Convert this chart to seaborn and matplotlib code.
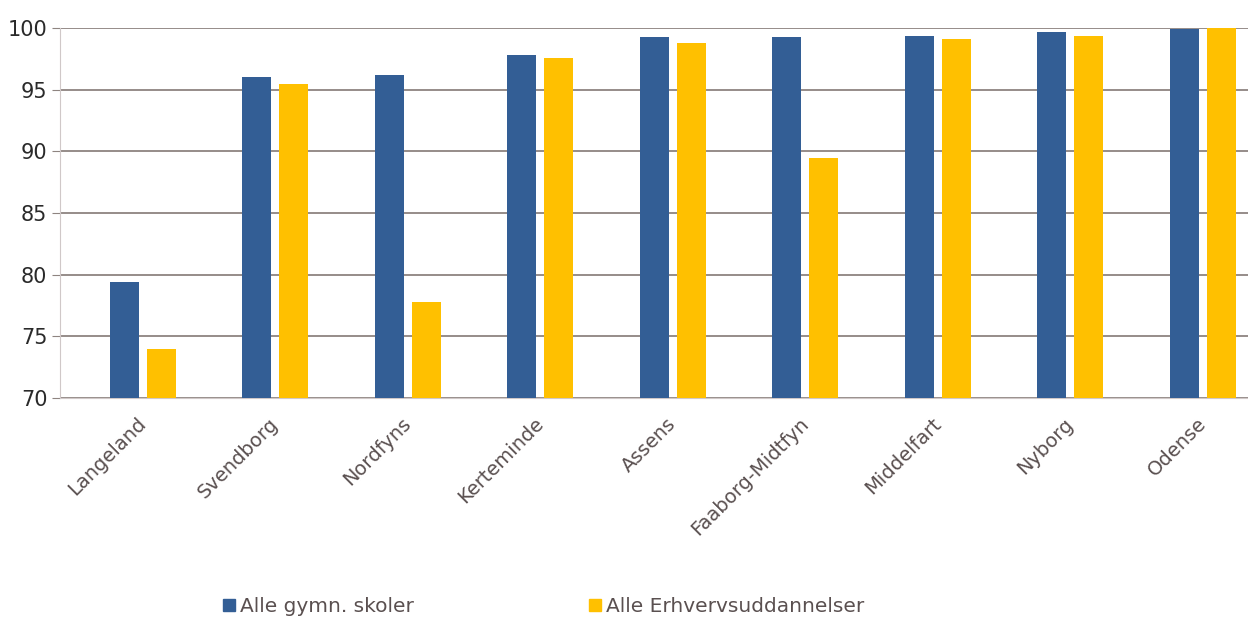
import numpy as np
import pandas as pd
import matplotlib
matplotlib.use('Agg')
import matplotlib.pyplot as plt
from matplotlib.lines import Line2D
import seaborn as sns

###############################################################################

kommuner = ['Langeland', 'Svendborg', 'Nordfyns', 'Kerteminde', 'Assens',
            'Faaborg-Midtfyn', 'Middelfart', 'Nyborg', 'Odense']

gymn = [79.4, 96.0, 96.2, 97.8, 99.3, 99.3, 99.4, 99.7, 99.9]
erhverv = [74.0, 95.5, 77.8, 97.6, 98.8, 89.45, 99.1, 99.4, 100.0]

serie_navne = ['Alle gymn. skoler', 'Alle Erhvervsuddannelser']
farver = ['#335E95', '#FFC000']

###############################################################################

if __name__ == "__main__":

    df = pd.DataFrame({
        'kommune': kommuner * 2,
        'serie': [serie_navne[0]] * len(kommuner) + [serie_navne[1]] * len(kommuner),
        'pct': gymn + erhverv,
    })

    sns.set_style('white')
    plt.rcParams['font.family'] = ['DejaVu Sans']

    fig = plt.figure(figsize=(12.48, 6.25), dpi=100)
    ax = fig.add_axes([0.048, 0.363, 0.952, 0.592])

    sns.barplot(data=df, x='kommune', y='pct', hue='serie',
                palette=farver, width=0.558, gap=0.215, saturation=1,
                linewidth=0, ax=ax, legend=False, zorder=3)

    ax.set_ylim(70, 100)
    ax.set_yticks(np.arange(70, 101, 5))
    ax.set_xlim(-0.626, 8.34)
    ax.yaxis.grid(True, color='#8e8480', linewidth=1.3, zorder=0)
    ax.set_axisbelow(True)

    for side in ['top', 'right']:
        ax.spines[side].set_visible(False)
    ax.spines['left'].set_color('#d0c8c8')
    ax.spines['bottom'].set_color('#d0c8c8')

    ax.tick_params(axis='y', left=True, length=6, color='#8e8480',
                   labelsize=15, labelcolor='#2a2a2a', pad=3)
    ax.tick_params(axis='x', bottom=False, labelsize=14,
                   labelcolor='#5a5050', pad=13)
    plt.setp(ax.get_xticklabels(), rotation=45, ha='right',
             va='center', rotation_mode='anchor')

    ax.set_xlabel('')
    ax.set_ylabel('')

    handles = [Line2D([0], [0], marker='s', linestyle='', markersize=9,
                      color=c) for c in farver]
    fig.legend(handles, serie_navne, loc='center left',
               bbox_to_anchor=(0.161, 0.03), ncol=2, frameon=False,
               fontsize=14.5, handletextpad=0.05, handlelength=1.0,
               columnspacing=8.5, labelcolor='#5a5050')

    plt.savefig('out.png', dpi=100)
